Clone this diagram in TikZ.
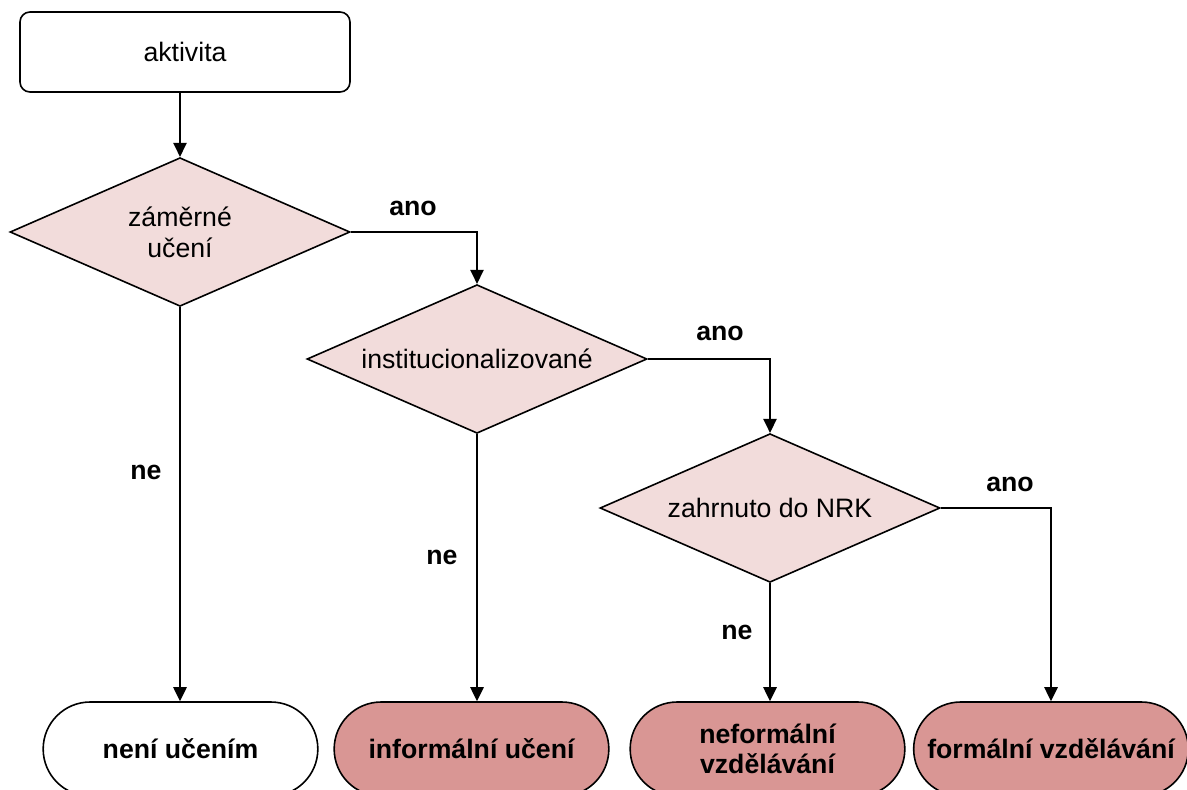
\documentclass[tikz,border=0pt]{standalone}
\usepackage{fontspec}
\setmainfont{Liberation Sans}
\usetikzlibrary{shapes.geometric,arrows.meta}
\definecolor{decfill}{HTML}{F2DCDB}
\definecolor{endfill}{HTML}{D99694}
\begin{document}
\begin{tikzpicture}[x=0.75pt,y=-0.75pt,
  every node/.style={font=\fontsize{20pt}{23pt}\selectfont},
  startbox/.style={draw, line width=1.2pt, rounded corners=7.5pt, minimum width=247.5pt, minimum height=60pt, inner sep=0pt},
  decbox/.style={draw, line width=1.2pt, fill=decfill, diamond, aspect=2.3, inner sep=0pt, minimum width=255pt, minimum height=111.5pt, align=center},
  termbox/.style={draw, line width=1.2pt, rounded corners=35.25pt, minimum width=206pt, minimum height=70.5pt, inner sep=0pt, align=center, font=\fontsize{20pt}{23pt}\selectfont\bfseries},
  lbl/.style={font=\fontsize{20pt}{23pt}\selectfont\bfseries},
  conn/.style={line width=1.2pt, -{Triangle[length=10.5pt,width=10pt]}}]
\useasboundingbox (0,0) rectangle (1187,789);
\begin{scope}
\clip (0,0) rectangle (1187,789);
\node[startbox] (a) at (185,52) {aktivita};
\node[decbox] (d1) at (180,232) {záměrné\\učení};
\node[decbox] (d2) at (477,359) {institucionalizované};
\node[decbox] (d3) at (770,508) {zahrnuto do NRK};
\node[termbox] (t1) at (180.5,749) {není učením};
\node[termbox, fill=endfill] (t2) at (471.5,749) {informální učení};
\node[termbox, fill=endfill] (t3) at (767.5,749) {neformální\\vzdělávání};
\node[termbox, fill=endfill] (t4) at (1051,749) {formální vzdělávání};

\draw[conn] (d1.north |- a.south) -- (d1.north);
\draw[conn] (d1.east) -| (d2.north);
\draw[conn] (d2.east) -| (d3.north);
\draw[conn] (d3.east) -| (t4.north);
\draw[conn] (d1.south) -- (d1.south |- t1.north);
\draw[conn] (d2.south) -- (d2.south |- t2.north);
\draw[conn] (d3.south) -- (d3.south |- t3.north);

\node[lbl] (y1) at (413,208) {ano};
\node[lbl] (y2) at (720,333) {ano};
\node[lbl] (y3) at (1010,484) {ano};
\node[lbl] (n1) at (146,472) {ne};
\node[lbl] (n2) at (442,557) {ne};
\node[lbl] (n3) at (737,632) {ne};
\end{scope}
\end{tikzpicture}
\end{document}
